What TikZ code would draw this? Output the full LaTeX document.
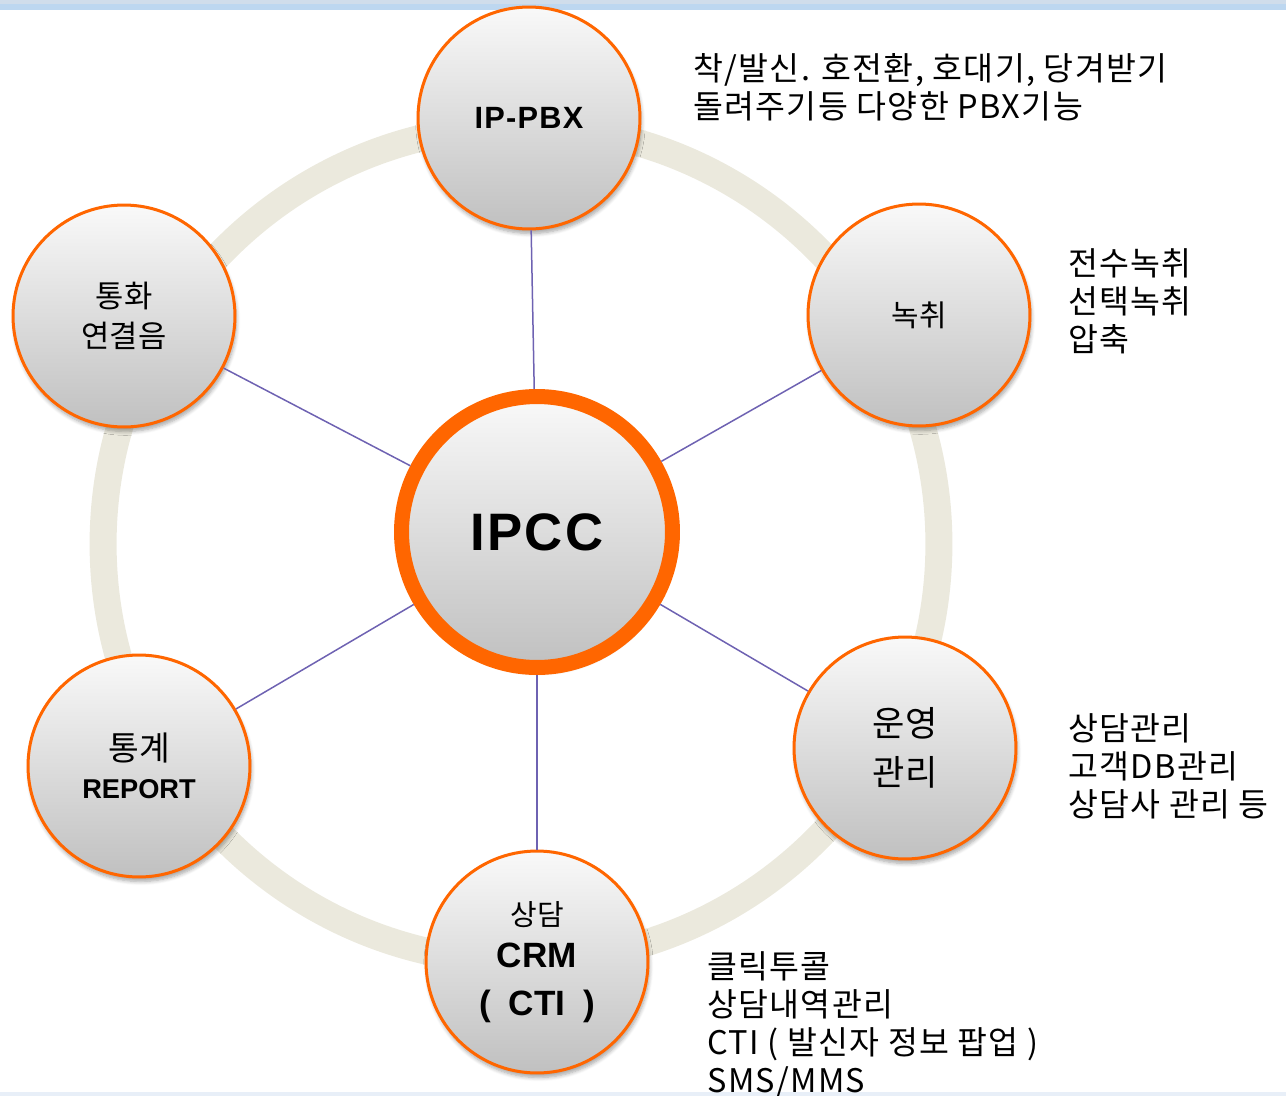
\documentclass[tikz,border=0pt]{standalone}
\usepackage{fontspec}
\setmainfont{Noto Sans CJK KR}
\newfontfamily\notefont{Noto Sans CJK KR}[LetterSpace=4]
\newfontfamily\arialbf{Liberation Sans}[LetterSpace=4]
\newfontfamily\arialplain{Liberation Sans}
\usetikzlibrary{positioning, shadows.blur}
\definecolor{ringbeige}{RGB}{235,233,221}
\definecolor{hub}{RGB}{255,102,0}
\definecolor{linkpurple}{RGB}{110,98,178}
\definecolor{balltop}{RGB}{249,249,249}
\definecolor{ballbot}{RGB}{192,192,192}
\definecolor{stripa}{RGB}{208,221,235}
\definecolor{stripb}{RGB}{189,215,240}
\definecolor{stripc}{RGB}{232,239,248}
\tikzstyle{ball} = [circle, draw=hub, line width=0.06cm, minimum size=4.44cm, inner sep=0pt, align=center, top color=balltop, bottom color=ballbot, blur shadow={shadow xshift=0.03cm, shadow yshift=-0.09cm, shadow blur steps=6, shadow opacity=35}]
\tikzstyle{hubball} = [ball, line width=0.3cm, minimum size=5.42cm]
\tikzstyle{note} = [anchor=west, align=left, inner sep=0pt, font=\notefont\fontsize{18.5}{21.6}\selectfont]
\tikzstyle{link} = [draw=linkpurple, line width=0.03cm]
\newcommand{\ko}[1]{\fontsize{#1}{#1}\selectfont}
\newcommand{\en}[1]{\fontsize{#1}{#1}\selectfont\arialbf\bfseries}
\newcommand{\enp}[1]{\fontsize{#1}{#1}\selectfont\arialplain\bfseries}

\begin{document}
\begin{tikzpicture}[x=0.02cm, y=-0.02cm]
		\useasboundingbox (0,0) rectangle (1286,1096);
		\fill[stripa] (0,0) rectangle (1286,4);
		\fill[stripb] (0,4) rectangle (1286,10);
		\fill[stripc] (0,1092) rectangle (1286,1096);
		\node (ring) [circle, draw=ringbeige, line width=0.54cm, minimum size=16.72cm] at (521,544) {};
		% centre and satellites
		\node (ipcc) [hubball] at (537,532) {\en{30}IPCC};
		\node (pbx) [ball] at (529,118) {\en{17.5}IP-PBX};
		\node (rec) [ball] at (919,315) {\ko{17}녹취};
		\node (ops) [ball] at (905,748) {\ko{20}운영\\[0.3cm]\ko{20}관리};
		\node (crm) [ball] at (537,962) {\ko{16.5}상담\\[0.28cm]\enp{20}CRM\\[0.4cm]\enp{20}(\kern0.36cm CTI\kern0.36cm)};
		\node (stat) [ball] at (139,766) {\ko{19}통계\\[0.28cm]\enp{15.5}REPORT};
		\node (call) [ball] at (124,316) {\ko{17.5}통화\\[0.22cm]\ko{17.5}연결음};
		\draw [link] (ipcc) -- (pbx);
		\draw [link] (ipcc) -- (rec);
		\draw [link] (ipcc) -- (ops);
		\draw [link] (ipcc) -- (crm);
		\draw [link] (ipcc) -- (stat);
		\draw [link] (ipcc) -- (call);
		% descriptions
		\node (pbxnote) [note] at (693,87) {착/발신. 호전환, 호대기, 당겨받기\\돌려주기등 다양한 PBX기능};
		\node (recnote) [note] at (1068,301) {전수녹취\\선택녹취\\압축};
		\node (opsnote) [note] at (1068,766) {상담관리\\고객DB관리\\상담사 관리 등};
		\node (crmnote) [note] at (707,1025) {클릭투콜\\상담내역관리\\CTI ( 발신자 정보 팝업 )\\SMS/MMS};
	\end{tikzpicture}
\end{document}
